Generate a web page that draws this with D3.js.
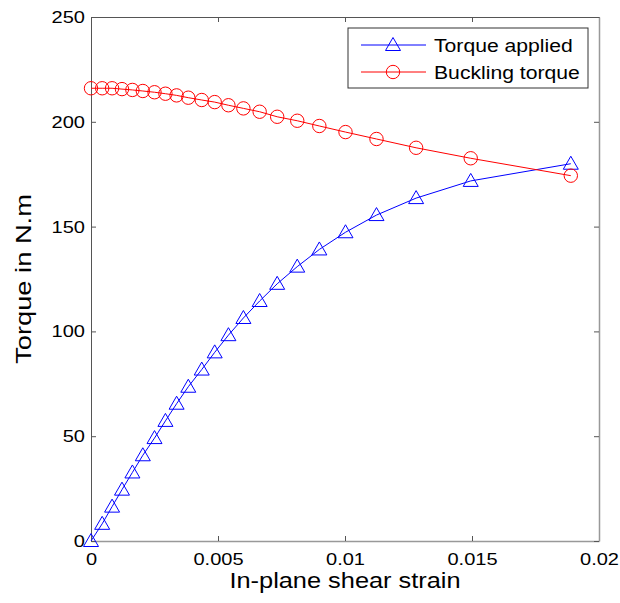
<!DOCTYPE html>
<html><head><meta charset="utf-8">
<script src="https://cdn.jsdelivr.net/npm/d3@7"></script>
<style>body{margin:0;background:#fff}svg{display:block}text{font-family:"Liberation Sans",Arial,sans-serif}</style>
</head><body><svg id="c" width="620" height="603"></svg>
<script>
const strain = [0, 0.00044, 0.00083, 0.00122, 0.00163, 0.00204, 0.0025, 0.00293, 0.00337, 0.00383, 0.00436, 0.00487, 0.00541, 0.006, 0.00664, 0.00733, 0.00812, 0.00899, 0.01002, 0.01124, 0.0128, 0.01495, 0.01889];
const torqueApplied = [0, 8.2, 16.4, 24.5, 32.7, 40.9, 49.1, 57.3, 65.5, 73.6, 81.8, 90, 98.2, 106.4, 114.5, 122.7, 130.9, 139.1, 147.3, 155.5, 163.6, 171.8, 180];
const bucklingTorque = [216, 216, 216, 215.6, 215.2, 214.7, 214.1, 213.4, 212.6, 211.5, 210.4, 209.4, 207.9, 206.4, 204.8, 202.4, 200.5, 198.0, 195.1, 191.8, 187.6, 182.6, 174.3];
const xTicks = [0, 0.005, 0.01, 0.015, 0.02];
const xTickLabels = ["0", "0.005", "0.01", "0.015", "0.02"];
const yTicks = [0, 50, 100, 150, 200, 250];
const seriesNames = ["Torque applied", "Buckling torque"];
const seriesColors = ["#0000ff", "#ff0000"];

const svg = d3.select("#c");
const L = 91, R = 599, T = 17, B = 541;
const SX = 1.18; // horizontal stretch of the original's font
const x = d3.scaleLinear().domain([0, 0.02]).range([L, R]);
const y = d3.scaleLinear().domain([0, 250]).range([B, T]);

const fmt = d => xTickLabels[xTicks.indexOf(d)];
svg.append("g").attr("transform", `translate(0,${B})`)
  .call(d3.axisBottom(x).tickValues(xTicks).tickFormat(fmt).tickSizeInner(-5).tickSizeOuter(0).tickPadding(12))
  .call(g => { g.select(".domain").attr("stroke", "#999").attr("stroke-width", 1.5); g.selectAll(".tick line").attr("stroke", "#555");
    g.selectAll("text").attr("font-size", 17).attr("fill", "#000").attr("transform", `scale(${SX},1)`); });
svg.append("g").attr("transform", `translate(0,${T})`)
  .call(d3.axisTop(x).tickValues(xTicks).tickFormat("").tickSizeInner(-5).tickSizeOuter(0))
  .call(g => { g.select(".domain").attr("stroke", "#555"); g.selectAll(".tick line").attr("stroke", "#555"); });
svg.append("g").attr("transform", `translate(${L},0)`)
  .call(d3.axisLeft(y).tickValues(yTicks).tickSizeInner(-5).tickSizeOuter(0).tickPadding(6))
  .call(g => { g.select(".domain").attr("stroke", "#555"); g.selectAll(".tick line").attr("stroke", "#555");
    g.selectAll("text").attr("font-size", 17).attr("fill", "#000").attr("x", -6 / SX).attr("transform", `scale(${SX},1)`); });
svg.append("g").attr("transform", `translate(${R},0)`)
  .call(d3.axisRight(y).tickValues(yTicks).tickFormat("").tickSizeInner(-5).tickSizeOuter(0))
  .call(g => { g.select(".domain").attr("stroke", "#999").attr("stroke-width", 1.5); g.selectAll(".tick line").attr("stroke", "#555"); });

svg.append("text").attr("transform", `translate(${(L + R) / 2},588) scale(${SX},1)`).attr("text-anchor", "middle")
  .attr("font-size", 21.5).text("In-plane shear strain");
svg.append("text").attr("transform", `translate(31,${(T + B) / 2}) rotate(-90) scale(1.24,1)`).attr("text-anchor", "middle")
  .attr("font-size", 22).text("Torque in N.m");

const tri = "M0,-7.5L7.5,5.5L-7.5,5.5Z";
const series = [torqueApplied, bucklingTorque];
const line = d3.line().x((d, i) => x(strain[i])).y(d => y(d));
series.forEach((vals, s) => {
  svg.append("path").datum(vals).attr("d", line).attr("fill", "none").attr("stroke", seriesColors[s]).attr("stroke-width", 1);
  const g = svg.append("g");
  vals.forEach((v, i) => {
    if (s === 0) g.append("path").attr("d", tri).attr("transform", `translate(${x(strain[i])},${y(v)})`)
      .attr("fill", "none").attr("stroke", seriesColors[s]).attr("stroke-width", 1);
    else g.append("circle").attr("cx", x(strain[i])).attr("cy", y(v)).attr("r", 6.7)
      .attr("fill", "none").attr("stroke", seriesColors[s]).attr("stroke-width", 1);
  });
});

const lg = svg.append("g");
lg.append("rect").attr("x", 348).attr("y", 28).attr("width", 240).attr("height", 60).attr("fill", "#fff").attr("stroke", "#333");
seriesNames.forEach((n, s) => {
  const yy = 45 + s * 27;
  lg.append("line").attr("x1", 361).attr("x2", 426).attr("y1", yy).attr("y2", yy).attr("stroke", seriesColors[s]);
  if (s === 0) lg.append("path").attr("d", tri).attr("transform", `translate(393,${yy})`).attr("fill", "none").attr("stroke", seriesColors[s]);
  else lg.append("circle").attr("cx", 393).attr("cy", yy).attr("r", 6.7).attr("fill", "none").attr("stroke", seriesColors[s]);
  lg.append("text").attr("transform", `translate(434,${yy + 6.5}) scale(1.21,1)`).attr("font-size", 17.5).text(n);
});
</script></body></html>
